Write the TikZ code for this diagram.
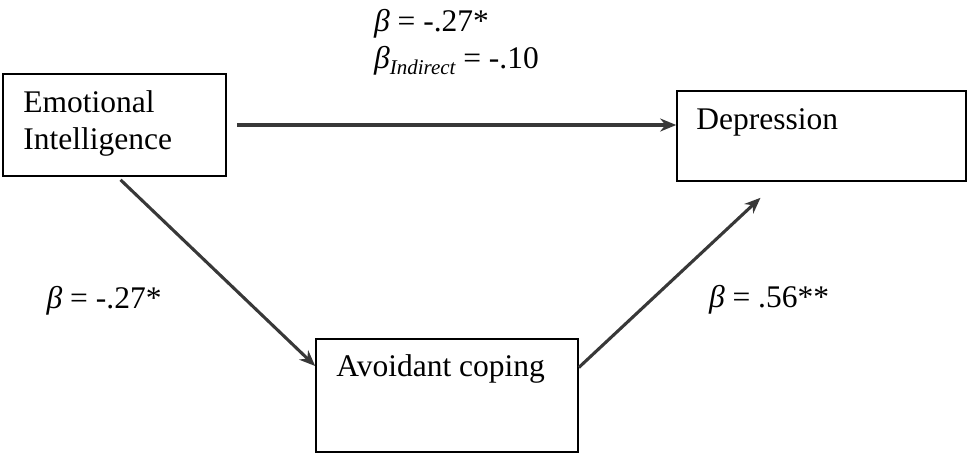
\documentclass[tikz,border=0pt]{standalone}
\usepackage{fontspec}
\setmainfont{Liberation Serif}
\usetikzlibrary{arrows.meta,positioning}
\newcommand{\bet}{\textit{β}}
\newcommand{\indsub}{\raisebox{-6pt}{\fontsize{21}{21}\selectfont\itshape Indirect}}

\begin{document}
\begin{tikzpicture}[x=1pt, y=-1pt,
  font=\fontsize{31.5}{37}\selectfont,
  box/.style={draw, line width=1.6pt, inner sep=0pt},
  txt/.style={inner sep=0pt, align=left},
  link/.style={->, draw=black!78, line width=3.1pt},
  coef/.style={inner sep=0pt, align=left},
  >={Stealth[length=16pt,width=13pt]}]

  \useasboundingbox (0,0) rectangle (968,453);

  % the three variables
  \node[box, minimum width=223pt, minimum height=102pt] (ei) at (114.5,125) {};
  \node[box, minimum width=289pt, minimum height=90pt] (dep) at (821.5,136) {};
  \node[box, minimum width=262pt, minimum height=113pt] (avoid) at (447,395.5) {};

  \node[txt, below right=17pt and 21pt of ei.north west] (eitext) {Emotional\\Intelligence};
  \node[txt, below right=18pt and 20pt of dep.north west] (deptext) {Depression};
  \node[txt, below right=16pt and 21pt of avoid.north west] (avoidtext) {Avoidant coping};

  % direct path
  \draw[link] ([xshift=10pt]ei.east) -- node[coef, above=48pt, xshift=0pt]
    {\bet{} = -.27*\\\bet\indsub{} = -.10} (ei.east -| dep.west);

  % indirect path
  \draw[link] ([xshift=6pt,yshift=-3pt]ei.south) -- node[coef, pos=0.65, left=84pt]
    {\bet{} = -.27*} ([yshift=29.5pt]avoid.west);
  \draw[link] ([yshift=28pt]avoid.east) -- node[coef, pos=0.4, right=56pt]
    {\bet{} = .56**} ([xshift=-61pt,yshift=-16pt]dep.south);
\end{tikzpicture}
\end{document}
